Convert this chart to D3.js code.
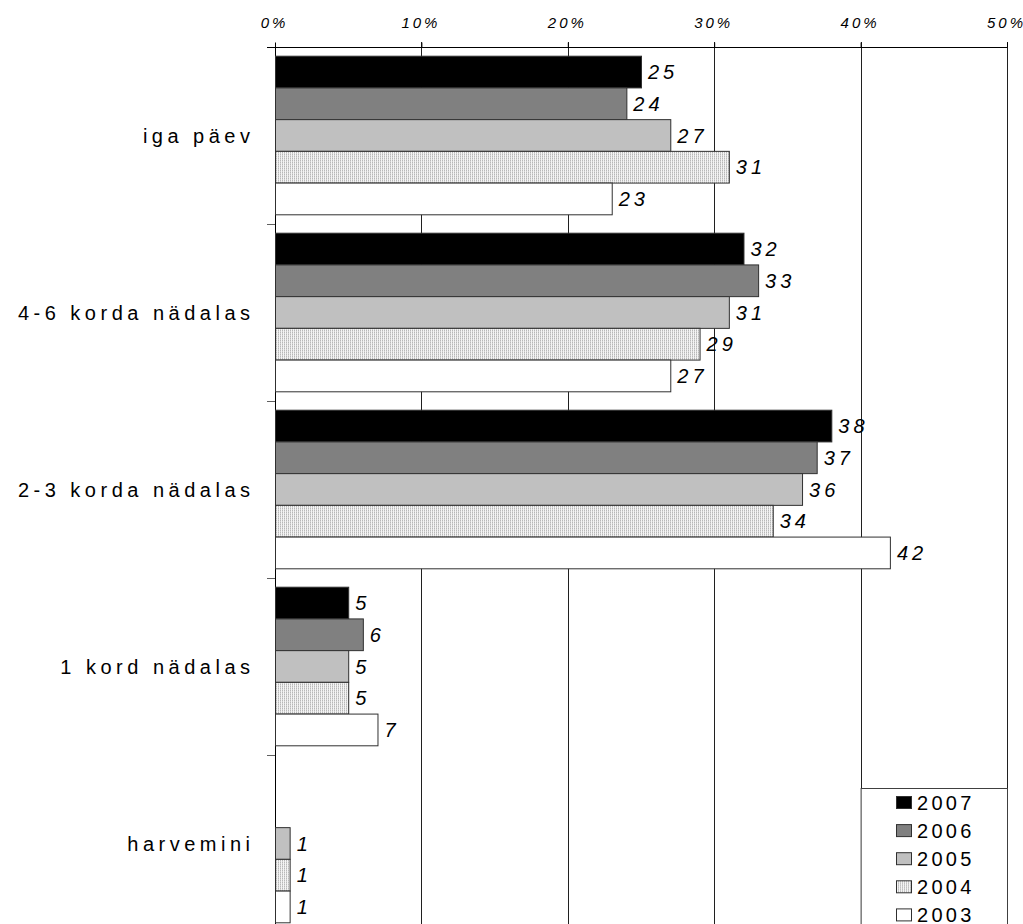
<!DOCTYPE html>
<html><head><meta charset="utf-8">
<script src="https://cdn.jsdelivr.net/npm/d3@7"></script>
<style>
html,body{margin:0;padding:0;background:#fff;}
svg{display:block;font-family:"Liberation Sans",Arial,sans-serif;}
</style></head>
<body>
<svg id="chart" width="1023" height="924"></svg>
<script>
const categories = ["iga päev", "4-6 korda nädalas", "2-3 korda nädalas", "1 kord nädalas", "harvemini"];
const seriesNames = ["2007", "2006", "2005", "2004", "2003"];
const values2007 = [25, 32, 38, 5, null];
const values2006 = [24, 33, 37, 6, null];
const values2005 = [27, 31, 36, 5, 1];
const values2004 = [31, 29, 34, 5, 1];
const values2003 = [23, 27, 42, 7, 1];
const tickValues = [0, 10, 20, 30, 40, 50];
const seriesFills = ["#000000", "#808080", "#c0c0c0", "url(#dots)", "#ffffff"];

const seriesValues = [values2007, values2006, values2005, values2004, values2003];

(function(){
const svg = d3.select("#chart");
const pLeft = 275, pRight = 1007, pTop = 47, pBottom = 932;

const defs = svg.append("defs");
const pat = defs.append("pattern").attr("id", "dots").attr("patternUnits", "userSpaceOnUse")
  .attr("width", 2).attr("height", 2);
pat.append("rect").attr("width", 2).attr("height", 2).attr("fill", "#f4f4f4");
pat.append("rect").attr("x", 0).attr("y", 0).attr("width", 1).attr("height", 1).attr("fill", "#b8b8b8");
pat.append("rect").attr("x", 0).attr("y", 1).attr("width", 1).attr("height", 1).attr("fill", "#d4d4d4");

const x = d3.scaleLinear().domain([0, 50]).range([pLeft, pRight]);
const y = d3.scaleBand().domain(categories).range([pTop, pBottom]).padding(0);
const inner = d3.scaleBand().domain(seriesNames)
  .range([9.2, y.bandwidth() - 9.2]).padding(0);

// gridlines
svg.append("g").selectAll("line").data(tickValues.filter(t => t > 0)).join("line")
  .attr("x1", d => Math.round(x(d)) + 0.5).attr("x2", d => Math.round(x(d)) + 0.5)
  .attr("y1", pTop - 5).attr("y2", pBottom)
  .attr("stroke", "#202020").attr("stroke-width", 1);

// top axis
const xAxis = d3.axisTop(x).tickValues(tickValues).tickFormat(d => d + "%").tickSize(5).tickPadding(8);
const gx = svg.append("g").attr("transform", `translate(0,${pTop + 0.5})`).call(xAxis);
gx.select(".domain").attr("d", `M${pLeft - 8},0H${pRight}`).attr("stroke", "#000");
gx.selectAll(".tick line").attr("stroke", "#000");
gx.selectAll(".tick text")
  .attr("font-family", '"Liberation Sans", Arial, sans-serif')
  .attr("font-size", 15).attr("font-style", "italic")
  .attr("letter-spacing", "3px").attr("fill", "#000")
  .attr("dx", "-1px").attr("y", -19.5);

// left axis
const yAxis = d3.axisLeft(y).tickSize(0).tickPadding(21).tickFormat(d => d);
const gy = svg.append("g").attr("transform", `translate(${pLeft + 0.5},0)`).call(yAxis);
gy.select(".domain").attr("d", `M0,${pTop}V${pBottom}`).attr("stroke", "#000");
gy.selectAll(".tick text")
  .attr("font-family", '"Liberation Sans", Arial, sans-serif')
  .attr("font-size", 20).attr("letter-spacing", "4.5px").attr("fill", "#000")
  .attr("dy", "0.37em");
// category boundary ticks
svg.append("g").selectAll("line").data(categories.slice(1)).join("line")
  .attr("x1", pLeft - 8).attr("x2", pLeft)
  .attr("y1", d => Math.round(y(d)) + 0.5).attr("y2", d => Math.round(y(d)) + 0.5)
  .attr("stroke", "#606060");

// bars
const rows = [];
categories.forEach((c, ci) => {
  seriesNames.forEach((s, si) => {
    const v = seriesValues[si][ci];
    if (v != null) rows.push({ c, s, si, v });
  });
});

const gb = svg.append("g");
gb.selectAll("rect").data(rows).join("rect")
  .attr("x", pLeft + 0.5)
  .attr("y", d => y(d.c) + inner(d.s))
  .attr("width", d => x(d.v) - pLeft)
  .attr("height", inner.bandwidth())
  .attr("fill", d => seriesFills[d.si])
  .attr("stroke", "#303030").attr("stroke-width", 1);

gb.selectAll("text").data(rows).join("text")
  .attr("x", d => x(d.v) + 7)
  .attr("y", d => y(d.c) + inner(d.s) + inner.bandwidth() / 2 + 7.2)
  .attr("font-size", 20).attr("font-style", "italic").attr("letter-spacing", "4px")
  .attr("fill", "#000")
  .text(d => d.v);

// legend
const lg = svg.append("g");
lg.append("rect").attr("x", x(40) + 0.5).attr("y", 788.5)
  .attr("width", x(50) - x(40)).attr("height", 160)
  .attr("fill", "#fff").attr("stroke", "#404040");
const li = lg.selectAll("g.item").data(seriesNames).join("g").attr("class", "item")
  .attr("transform", (d, i) => `translate(896,${803 + i * 28.1})`);
li.append("rect").attr("x", 0.5).attr("y", -6.5).attr("width", 15).attr("height", 12)
  .attr("fill", (d, i) => seriesFills[i]).attr("stroke", "#303030");
li.append("text").attr("x", 21).attr("y", 7)
  .attr("font-size", 20).attr("letter-spacing", "3.3px").attr("fill", "#000")
  .text(d => d);
})();
</script>
</body></html>
